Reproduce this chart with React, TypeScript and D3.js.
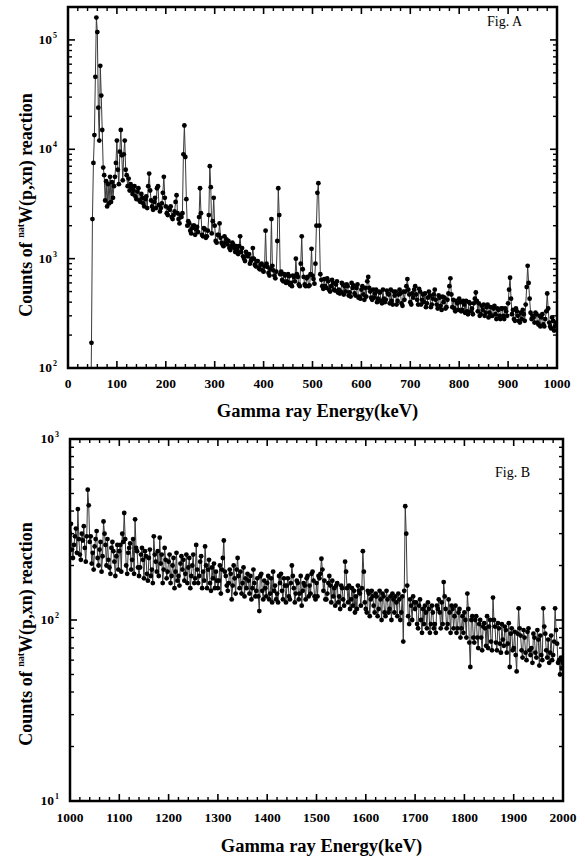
import * as d3 from 'd3';

// Fig. A spectrum: channel energies start at 46 keV, 2 keV apart
const startA = 46;
const stepA = 2;
const countsA = [
  20,
  170, 2300, 7500, 13500, 46000, 160000, 118000, 24000, 12000, 58000,
  31000, 15000, 6800, 5800, 3400, 5100, 3000, 4800, 3200, 5600,
  3300, 5000, 3600, 4600, 5600, 7500, 12000, 6500, 4800, 9500,
  15000, 8800, 5200, 9000, 12000, 6500, 5800, 4600, 5400, 4200,
  4800, 4500, 3900, 4200, 4600, 3700, 3500, 4100, 4400, 3400,
  3300, 3900, 3600, 3200, 3000, 3500, 3700, 2900, 4600, 6000,
  4200, 3400, 3000, 2800, 3300, 3600, 2900, 4400, 4600, 3100,
  2700, 2900, 3200, 4000, 5600, 3600, 3000, 2600, 2500, 2900,
  2800, 3000, 2400, 2300, 2500, 2700, 3300, 3800, 2600, 2300,
  2100, 2500, 2400, 2600, 9000, 16500, 8500, 3500, 2000, 2200,
  2100, 1800, 1700, 1900, 2000, 2000, 1650, 1850, 1950, 1750,
  2400, 4400, 2600, 1650, 1600, 1900, 1850, 1550, 1600, 1800,
  2500, 7000, 4500, 1700, 2200, 3600, 2000, 1450, 1400, 1650,
  1650, 2100, 1550, 1400, 1350, 1300, 1600, 1400, 1500, 1350,
  1450, 1250, 1200, 1300, 1400, 1350, 1250, 1150, 1300, 1200,
  1100, 1300, 1600, 1150, 1250, 1050, 1000, 950, 1150, 1100,
  1050, 1100, 900, 950, 1000, 1250, 1000, 880, 850, 950,
  950, 820, 800, 880, 900, 780, 760, 850, 1800, 900,
  840, 740, 700, 800, 2300, 860, 780, 700, 660, 760,
  1450, 4400, 2500, 720, 760, 640, 620, 720, 700, 600,
  620, 720, 690, 580, 600, 560, 700, 680, 620, 1000,
  720, 680, 580, 560, 900, 1600, 800, 680, 580, 560,
  660, 680, 560, 570, 720, 1230, 700, 650, 590, 900,
  2000, 4000, 4900, 2000, 720, 640, 560, 530, 650, 560,
  540, 660, 620, 520, 500, 560, 640, 600, 520, 510,
  580, 620, 490, 520, 480, 500, 600, 580, 470, 560,
  500, 580, 560, 460, 490, 450, 600, 540, 570, 480,
  460, 540, 580, 440, 450, 430, 520, 560, 470, 420,
  540, 450, 620, 680, 540, 500, 440, 420, 520, 440,
  480, 520, 400, 430, 500, 490, 410, 390, 520, 430,
  400, 420, 510, 480, 470, 390, 520, 410, 380, 500,
  460, 500, 380, 410, 470, 520, 480, 390, 370, 500,
  420, 500, 560, 650, 520, 470, 400, 380, 480, 440,
  520, 560, 470, 420, 380, 530, 500, 380, 420, 470,
  400, 480, 360, 390, 440, 500, 460, 360, 380, 430,
  470, 520, 420, 380, 350, 460, 440, 370, 340, 450,
  400, 440, 350, 360, 420, 480, 560, 660, 470, 360,
  420, 350, 330, 410, 390, 340, 430, 400, 330, 340,
  410, 380, 320, 410, 330, 310, 400, 390, 330, 350,
  310, 390, 430, 490, 410, 330, 390, 300, 310, 370,
  340, 380, 300, 320, 360, 380, 290, 320, 360, 300,
  300, 350, 370, 310, 280, 350, 340, 300, 280, 350,
  350, 300, 280, 350, 330, 300, 390, 520, 670, 430,
  310, 340, 280, 270, 350, 330, 300, 270, 260, 320,
  280, 340, 310, 270, 380, 550, 860, 600, 430, 320,
  280, 300, 290, 260, 320, 310, 260, 250, 300, 240,
  290, 310, 250, 240, 280, 330, 480, 350, 260, 240,
  230, 290, 270, 220, 240, 260,
];

// Fig. B spectrum: 1000 keV onwards, 2 keV apart
const startB = 1000;
const stepB = 2;
const countsB = [
  300, 340, 245, 220, 260, 290, 320, 235, 410, 280,
  230, 215, 300, 275, 330, 250, 210, 290, 525, 430,
  270, 290, 205, 235, 190, 255, 280, 310, 220, 200,
  245, 270, 185, 225, 350, 300, 260, 200, 280, 215,
  195, 180, 250, 270, 240, 210, 175, 225, 260, 190,
  240, 260, 185, 300, 270, 390, 280, 200, 180, 235,
  250, 265, 190, 215, 280, 180, 360, 250, 240, 195,
  175, 195, 230, 250, 215, 170, 240, 225, 180, 165,
  220, 245, 175, 190, 160, 290, 230, 210, 185, 240,
  175, 285, 205, 230, 160, 190, 250, 215, 170, 185,
  210, 230, 160, 175, 200, 220, 150, 185, 235, 165,
  175, 155, 205, 225, 190, 215, 165, 180, 230, 160,
  195, 220, 150, 175, 200, 230, 160, 170, 260, 190,
  160, 175, 210, 225, 150, 185, 165, 255, 200, 150,
  190, 215, 160, 145, 195, 170, 205, 150, 185, 165,
  150, 165, 200, 140, 190, 220, 275, 185, 175, 155,
  145, 160, 190, 180, 130, 155, 200, 170, 140, 190,
  220, 175, 150, 185, 140, 160, 195, 135, 170, 150,
  180, 165, 140, 175, 130, 150, 190, 160, 135, 145,
  170, 135, 112, 175, 180, 145, 130, 165, 150, 135,
  160, 175, 130, 140, 170, 125, 185, 145, 155, 130,
  140, 125, 175, 160, 180, 145, 130, 170, 155, 125,
  155, 170, 135, 130, 160, 200, 175, 150, 125, 140,
  165, 160, 130, 140, 175, 120, 145, 160, 155, 130,
  170, 175, 135, 155, 140, 180, 185, 165, 135, 130,
  160, 135, 175, 170, 180, 218, 190, 145, 165, 130,
  130, 140, 160, 175, 155, 125, 165, 135, 150, 120,
  155, 160, 125, 135, 115, 155, 150, 130, 120, 210,
  185, 150, 125, 155, 115, 130, 150, 120, 145, 110,
  135, 115, 155, 145, 140, 120, 150, 240, 185, 125,
  115, 110, 145, 140, 105, 130, 145, 135, 120, 110,
  140, 135, 105, 115, 145, 130, 100, 140, 135, 110,
  105, 145, 130, 110, 115, 135, 100, 140, 130, 110,
  135, 125, 105, 140, 130, 100, 110, 135, 76, 145,
  425, 300, 155, 105, 95, 130, 120, 100, 135, 125,
  115, 125, 95, 90, 120, 130, 100, 85, 115, 95,
  120, 110, 90, 125, 115, 85, 95, 120, 110, 90,
  95, 85, 120, 115, 130, 110, 90, 125, 95, 162,
  135, 115, 90, 95, 130, 110, 85, 120, 115, 90,
  105, 120, 85, 90, 110, 115, 80, 90, 105, 85,
  110, 100, 80, 140, 115, 75, 55, 100, 105, 80,
  75, 100, 105, 80, 70, 95, 100, 80, 68, 92,
  96, 90, 72, 105, 70, 92, 100, 76, 68, 133,
  100, 92, 75, 68, 96, 90, 74, 66, 95, 78,
  72, 92, 88, 66, 74, 96, 55, 84, 90, 68,
  70, 86, 64, 52, 84, 116, 90, 82, 68, 62,
  88, 80, 66, 60, 86, 90, 68, 64, 70, 58,
  84, 80, 66, 62, 88, 78, 56, 82, 64, 60,
  116, 92, 84, 68, 62, 78, 58, 66, 82, 60,
  64, 76, 116, 88, 74, 58, 60, 50, 62, 54,
  58,
];

const xTicksA = [0, 100, 200, 300, 400, 500, 600, 700, 800, 900, 1000];
const yTicksA = [100, 1000, 10000, 100000];
const xTicksB = [1000, 1100, 1200, 1300, 1400, 1500, 1600, 1700, 1800, 1900, 2000];
const yTicksB = [10, 100, 1000];

const FONT = '"Liberation Serif", "Times New Roman", serif';

function Panel({ id, box, xDomain, yDomain, xTicks, yTicks, start, step, counts, tag, tagPos, yLabelY, xLabelY, tickLabelY }) {
  const [left, top, right, bottom] = box;
  const x = d3.scaleLinear().domain(xDomain).range([left, right]);
  const y = d3.scaleLog().domain(yDomain).range([bottom, top]);
  const pts = counts.map((c, i) => [x(start + i * step), y(c)]);
  const path = d3.line()(pts);

  const minorX = d3.range(xDomain[0], xDomain[1] + 1, 20).filter(v => v % 100 !== 0);
  const minorY = [];
  const lo = Math.floor(Math.log10(yDomain[0]));
  const hi = Math.ceil(Math.log10(yDomain[1]));
  for (let n = lo; n < hi; n++) {
    for (let k = 2; k <= 9; k++) {
      const v = k * Math.pow(10, n);
      if (v > yDomain[0] && v <= yDomain[1]) minorY.push(v);
    }
  }

  return (
    <g>
      <defs>
        <clipPath id={id}>
          <rect x={left} y={top} width={right - left} height={bottom - top} />
        </clipPath>
      </defs>
      <g clipPath={`url(#${id})`}>
        <path d={path} fill="none" stroke="#3a3a3a" strokeWidth={1} />
        {pts.map((p, i) => (
          <circle key={i} cx={p[0]} cy={p[1]} r={2.4} fill="#000" />
        ))}
      </g>
      {/* ticks, all four sides, pointing in */}
      {xTicks.map(v => (
        <g key={'xt' + v}>
          <line x1={x(v)} x2={x(v)} y1={bottom} y2={bottom - 7} stroke="#000" strokeWidth={1.6} />
          <line x1={x(v)} x2={x(v)} y1={top} y2={top + 7} stroke="#000" strokeWidth={1.6} />
          <text x={x(v)} y={tickLabelY} textAnchor="middle" fontSize={13.5} fontWeight="bold" fontFamily={FONT}>{v}</text>
        </g>
      ))}
      {minorX.map(v => (
        <g key={'xm' + v}>
          <line x1={x(v)} x2={x(v)} y1={bottom} y2={bottom - 4} stroke="#000" strokeWidth={1.4} />
          <line x1={x(v)} x2={x(v)} y1={top} y2={top + 4} stroke="#000" strokeWidth={1.4} />
        </g>
      ))}
      {yTicks.map(v => (
        <g key={'yt' + v}>
          <line x1={left} x2={left + 7} y1={y(v)} y2={y(v)} stroke="#000" strokeWidth={1.6} />
          <line x1={right} x2={right - 7} y1={y(v)} y2={y(v)} stroke="#000" strokeWidth={1.6} />
          <text x={left - 16} y={y(v) + 4} textAnchor="end" fontSize={13.5} fontWeight="bold" fontFamily={FONT}>10</text>
          <text x={left - 15} y={y(v) - 2} textAnchor="start" fontSize={8} fontWeight="bold" fontFamily={FONT}>{Math.round(Math.log10(v))}</text>
        </g>
      ))}
      {minorY.map(v => (
        <g key={'ym' + v}>
          <line x1={left} x2={left + 4} y1={y(v)} y2={y(v)} stroke="#000" strokeWidth={1.4} />
          <line x1={right} x2={right - 4} y1={y(v)} y2={y(v)} stroke="#000" strokeWidth={1.4} />
        </g>
      ))}
      <rect x={left} y={top} width={right - left} height={bottom - top} fill="none" stroke="#000" strokeWidth={2.5} />
      <text x={tagPos[0]} y={tagPos[1]} fontSize={14} fontFamily={FONT}>{tag}</text>
      <text transform={`translate(32,${yLabelY}) rotate(-90)`} textAnchor="middle" fontSize={18} fontWeight="bold" fontFamily={FONT}>
        Counts of <tspan dy={-8} fontSize={10}>nat</tspan><tspan dy={8}>W(p,xn) reaction</tspan>
      </text>
      <text x={(left + right) / 2 + 5} y={xLabelY} textAnchor="middle" fontSize={18.5} fontWeight="bold" fontFamily={FONT}>Gamma ray Energy(keV)</text>
    </g>
  );
}

export default function App() {
  return (
    <svg width={585} height={858} style={{ position: 'absolute', left: 0, top: 0, background: '#fff' }}>
      <Panel id="clipA" box={[68, 7, 557, 368]} xDomain={[0, 1000]} yDomain={[100, 200000]}
        xTicks={xTicksA} yTicks={yTicksA} start={startA} step={stepA} counts={countsA}
        tag="Fig. A" tagPos={[487, 26]} yLabelY={205} xLabelY={417} tickLabelY={388} />
      <Panel id="clipB" box={[70, 439, 563, 801]} xDomain={[1000, 2000]} yDomain={[10, 1000]}
        xTicks={xTicksB} yTicks={yTicksB} start={startB} step={stepB} counts={countsB}
        tag="Fig. B" tagPos={[495, 477]} yLabelY={634} xLabelY={852} tickLabelY={822} />
    </svg>
  );
}
